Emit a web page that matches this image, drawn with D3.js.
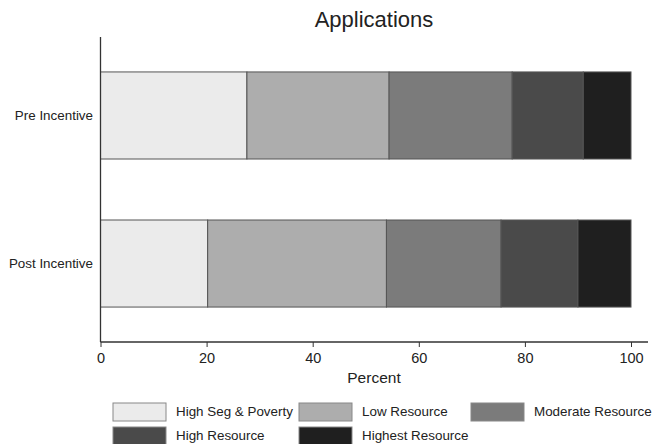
<!DOCTYPE html>
<html><head><meta charset="utf-8">
<script src="https://cdn.jsdelivr.net/npm/d3@7"></script>
<style>body{margin:0;background:#fff}svg{display:block}text{font-family:"Liberation Sans",Arial,sans-serif;fill:#222}</style>
</head><body><div id="c"></div>
<script>
const categories = ["Pre Incentive", "Post Incentive"];
const seriesNames = ["High Seg & Poverty", "Low Resource", "Moderate Resource", "High Resource", "Highest Resource"];
const highSeg = [27.6, 20.2];
const lowRes = [26.8, 33.7];
const modRes = [23.2, 21.6];
const highRes = [13.4, 14.5];
const highestRes = [9.0, 10.0];
const xTicks = [0, 20, 40, 60, 80, 100];
const colors = ["#ebebeb", "#adadad", "#7b7b7b", "#4a4a4a", "#1f1f1f"];

(function () {
const W = 652, H = 444;
const svg = d3.select("#c").append("svg").attr("width", W).attr("height", H);
const pLeft = 100.5, pRight = 648, pTop = 37, pBottom = 342;
const x = d3.scaleLinear().domain([0, 100]).range([pLeft, 631]);
const y = d3.scaleBand().domain(categories).range([pTop, pBottom]).paddingInner(0.412).paddingOuter(0.236);

const rows = categories.map((c, i) => {
  const o = {cat: c};
  [highSeg, lowRes, modRes, highRes, highestRes].forEach((arr, j) => o[seriesNames[j]] = arr[i]);
  return o;
});
const stack = d3.stack().keys(seriesNames)(rows);

svg.append("text").attr("x", 374).attr("y", 21).attr("text-anchor", "middle")
  .attr("dominant-baseline", "middle").style("font-size", "22px").text("Applications");

stack.forEach((s, j) => {
  svg.append("g").selectAll("rect").data(s).join("rect")
    .attr("x", d => x(d[0])).attr("width", d => x(d[1]) - x(d[0]))
    .attr("y", d => y(d.data.cat)).attr("height", y.bandwidth())
    .attr("fill", colors[j]).attr("stroke", "#555").attr("stroke-width", 1);
});

svg.append("line").attr("x1", pLeft).attr("x2", pLeft).attr("y1", pTop).attr("y2", pBottom)
  .attr("stroke", "#333").attr("stroke-width", 1.3);
categories.forEach(c => {
  svg.append("text").attr("x", 93).attr("y", y(c) + y.bandwidth() / 2 + 1)
    .attr("text-anchor", "end").attr("dominant-baseline", "middle").style("font-size", "13.4px").text(c);
});

const gx = svg.append("g").attr("transform", `translate(0,${pBottom})`);
gx.append("line").attr("x1", pLeft).attr("x2", pRight).attr("stroke", "#333").attr("stroke-width", 1.3);
const ax = d3.axisBottom(x).tickValues(xTicks).tickSize(5).tickSizeOuter(0).tickPadding(6);
gx.call(ax);
gx.select(".domain").remove();
gx.selectAll(".tick line").attr("stroke", "#333");
gx.selectAll(".tick text").style("font-size", "14.5px").attr("fill", "#222").style("font-family", '"Liberation Sans",Arial,sans-serif');
svg.append("text").attr("x", 374).attr("y", 379).attr("text-anchor", "middle")
  .attr("dominant-baseline", "middle").style("font-size", "15.5px").text("Percent");

const legX = [113, 299, 471];
const legY = [403, 427];
seriesNames.forEach((n, i) => {
  const cx = legX[i % 3], cy = legY[Math.floor(i / 3)];
  svg.append("rect").attr("x", cx).attr("y", cy).attr("width", 53).attr("height", 18)
    .attr("fill", colors[i]).attr("stroke", "#888").attr("stroke-width", 1);
  svg.append("text").attr("x", cx + 63).attr("y", cy + 9.5).attr("dominant-baseline", "middle")
    .style("font-size", "13.4px").text(n);
});
})();
</script></body></html>
